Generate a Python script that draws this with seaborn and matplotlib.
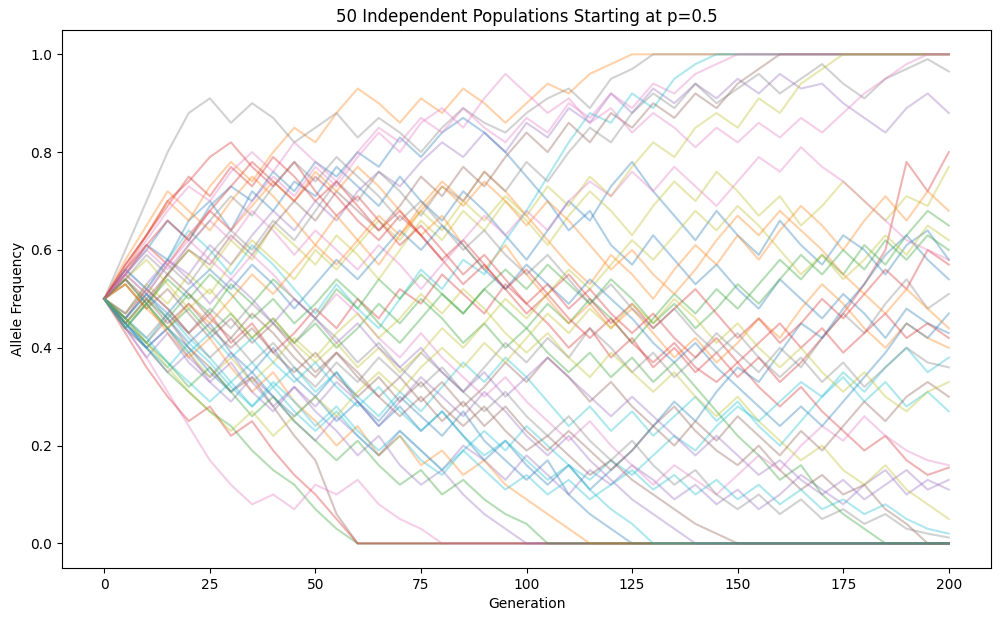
import numpy as np
import pandas as pd
import matplotlib
matplotlib.use("Agg")
import matplotlib.pyplot as plt
import seaborn as sns

generations = np.arange(0, 201, 5)

pop01 = [0.50,0.55,0.61,0.58,0.66,0.70,0.64,0.72,0.68,0.74, 0.71,0.77,0.73,0.69,0.75,0.70,0.66,0.72,0.68,0.63, 0.58,0.64,0.70,0.66,0.73,0.78,0.72,0.67,0.62,0.68, 0.63,0.59,0.66,0.61,0.57,0.63,0.60,0.55,0.61,0.64,0.58]
pop02 = [0.50,0.56,0.63,0.70,0.66,0.73,0.78,0.74,0.80,0.85, 0.82,0.88,0.93,0.90,0.86,0.91,0.88,0.93,0.90,0.86, 0.90,0.94,0.92,0.96,0.98,1.0,1.0,1.0,1.0,1.0, 1.0,1.0,1.0,1.0,1.0,1.0,1.0,1.0,1.0,1.0,1.0]
pop03 = [0.50,0.44,0.40,0.35,0.31,0.27,0.24,0.19,0.15,0.12, 0.07,0.03,0.0,0.0,0.0,0.0,0.0,0.0,0.0,0.0, 0.0,0.0,0.0,0.0,0.0,0.0,0.0,0.0,0.0,0.0, 0.0,0.0,0.0,0.0,0.0,0.0,0.0,0.0,0.0,0.0,0.0]
pop04 = [0.50,0.46,0.52,0.48,0.43,0.47,0.41,0.45,0.39,0.43, 0.48,0.44,0.50,0.46,0.52,0.49,0.55,0.51,0.47,0.53, 0.49,0.45,0.40,0.44,0.38,0.42,0.36,0.40,0.35,0.39, 0.34,0.38,0.33,0.37,0.42,0.47,0.53,0.60,0.78,0.72,0.80]
pop05 = [0.50,0.47,0.53,0.58,0.55,0.61,0.57,0.63,0.68,0.64, 0.70,0.66,0.72,0.76,0.73,0.78,0.82,0.79,0.84,0.80, 0.86,0.83,0.89,0.86,0.92,0.88,0.93,0.90,0.94,0.91, 0.95,0.92,0.96,0.93,0.94,0.90,0.87,0.84,0.89,0.92,0.88]
pop06 = [0.50,0.45,0.41,0.46,0.40,0.36,0.31,0.34,0.28,0.22, 0.17,0.06,0.0,0.0,0.0,0.0,0.0,0.0,0.0,0.0, 0.0,0.0,0.0,0.0,0.0,0.0,0.0,0.0,0.0,0.0, 0.0,0.0,0.0,0.0,0.0,0.0,0.0,0.0,0.0,0.0,0.0]
pop07 = [0.50,0.44,0.38,0.31,0.24,0.17,0.12,0.08,0.10,0.07, 0.12,0.10,0.13,0.08,0.05,0.03,0.0,0.0,0.0,0.0, 0.0,0.0,0.0,0.0,0.0,0.0,0.0,0.0,0.0,0.0, 0.0,0.0,0.0,0.0,0.0,0.0,0.0,0.0,0.0,0.0,0.0]
pop08 = [0.50,0.60,0.70,0.80,0.88,0.91,0.86,0.90,0.87,0.82, 0.85,0.88,0.83,0.87,0.84,0.80,0.85,0.89,0.86,0.84, 0.88,0.91,0.93,0.89,0.95,0.97,1.0,1.0,1.0,1.0, 1.0,1.0,1.0,1.0,1.0,1.0,1.0,1.0,1.0,1.0,1.0]
pop09 = [0.50,0.53,0.48,0.55,0.60,0.56,0.62,0.58,0.65,0.61, 0.57,0.63,0.59,0.54,0.60,0.66,0.62,0.68,0.64,0.70, 0.66,0.61,0.67,0.72,0.68,0.63,0.69,0.74,0.70,0.76, 0.72,0.67,0.71,0.65,0.69,0.74,0.70,0.66,0.71,0.69,0.77]
pop10 = [0.50,0.56,0.52,0.58,0.64,0.60,0.55,0.61,0.57,0.52, 0.47,0.53,0.48,0.44,0.50,0.56,0.52,0.58,0.55,0.62, 0.68,0.75,0.82,0.88,0.86,0.92,0.89,0.95,0.98,1.0, 1.0,1.0,1.0,1.0,1.0,1.0,1.0,1.0,1.0,1.0,1.0]
pop11 = [0.50,0.55,0.60,0.66,0.62,0.69,0.73,0.70,0.76,0.72, 0.78,0.75,0.80,0.77,0.83,0.79,0.84,0.87,0.84,0.80, 0.75,0.70,0.64,0.68,0.61,0.57,0.63,0.58,0.53,0.57, 0.52,0.48,0.54,0.50,0.46,0.51,0.47,0.42,0.48,0.45,0.43]
pop12 = [0.50,0.58,0.65,0.72,0.68,0.64,0.70,0.75,0.71,0.66, 0.61,0.67,0.62,0.57,0.63,0.69,0.74,0.70,0.76,0.72, 0.67,0.62,0.57,0.53,0.59,0.55,0.50,0.56,0.61,0.57, 0.63,0.58,0.64,0.69,0.65,0.60,0.66,0.71,0.66,0.72,0.68]
pop13 = [0.50,0.45,0.50,0.46,0.51,0.47,0.53,0.49,0.54,0.50, 0.46,0.52,0.48,0.54,0.50,0.55,0.51,0.47,0.52,0.48, 0.44,0.49,0.45,0.50,0.46,0.41,0.46,0.51,0.47,0.52, 0.48,0.53,0.58,0.54,0.59,0.55,0.61,0.57,0.63,0.68,0.65]
pop14 = [0.50,0.43,0.36,0.30,0.25,0.28,0.22,0.25,0.19,0.14, 0.10,0.05,0.0,0.0,0.0,0.0,0.0,0.0,0.0,0.0, 0.0,0.0,0.0,0.0,0.0,0.0,0.0,0.0,0.0,0.0, 0.0,0.0,0.0,0.0,0.0,0.0,0.0,0.0,0.0,0.0,0.0]
pop15 = [0.50,0.44,0.40,0.35,0.39,0.33,0.29,0.34,0.30,0.25, 0.21,0.26,0.22,0.18,0.23,0.19,0.15,0.20,0.17,0.13, 0.18,0.14,0.10,0.15,0.12,0.16,0.13,0.09,0.12,0.08, 0.11,0.07,0.10,0.14,0.11,0.08,0.12,0.15,0.10,0.13,0.11]
pop16 = [0.50,0.54,0.49,0.55,0.60,0.57,0.63,0.59,0.65,0.70, 0.66,0.72,0.68,0.64,0.69,0.75,0.71,0.77,0.73,0.79, 0.84,0.80,0.86,0.82,0.88,0.85,0.90,0.87,0.92,0.89, 0.94,0.97,1.0,1.0,1.0,1.0,1.0,1.0,1.0,1.0,1.0]
pop17 = [0.50,0.56,0.62,0.68,0.73,0.70,0.76,0.80,0.76,0.82, 0.78,0.74,0.80,0.85,0.82,0.87,0.84,0.89,0.85,0.82, 0.87,0.84,0.90,0.87,0.92,0.89,0.94,0.92,0.96,0.98, 1.0,1.0,1.0,1.0,1.0,1.0,1.0,1.0,1.0,1.0,1.0]
pop18 = [0.50,0.55,0.51,0.57,0.53,0.59,0.64,0.60,0.66,0.62, 0.68,0.74,0.70,0.76,0.72,0.67,0.73,0.70,0.76,0.72, 0.78,0.74,0.80,0.85,0.82,0.88,0.92,0.89,0.94,0.90, 0.93,0.96,0.92,0.95,0.98,0.94,0.91,0.95,0.97,0.99,0.965]
pop19 = [0.50,0.47,0.53,0.49,0.55,0.51,0.57,0.62,0.58,0.54, 0.60,0.56,0.61,0.66,0.62,0.68,0.64,0.70,0.66,0.71, 0.67,0.73,0.69,0.75,0.71,0.77,0.82,0.79,0.85,0.88, 0.85,0.91,0.88,0.94,0.97,1.0,1.0,1.0,1.0,1.0,1.0]
pop20 = [0.50,0.45,0.41,0.47,0.42,0.38,0.33,0.37,0.32,0.36, 0.31,0.35,0.30,0.26,0.31,0.27,0.32,0.37,0.33,0.38, 0.34,0.29,0.24,0.28,0.23,0.27,0.22,0.26,0.30,0.25, 0.29,0.24,0.20,0.25,0.30,0.34,0.29,0.33,0.28,0.31,0.27]
pop21 = [0.50,0.46,0.51,0.46,0.41,0.45,0.39,0.35,0.40,0.34, 0.30,0.35,0.29,0.25,0.30,0.26,0.22,0.27,0.21,0.17, 0.13,0.17,0.10,0.06,0.03,0.0,0.0,0.0,0.0,0.0, 0.0,0.0,0.0,0.0,0.0,0.0,0.0,0.0,0.0,0.0,0.0]
pop22 = [0.50,0.55,0.61,0.57,0.63,0.68,0.64,0.69,0.74,0.70, 0.76,0.72,0.77,0.73,0.68,0.63,0.67,0.61,0.56,0.61, 0.55,0.50,0.45,0.49,0.44,0.48,0.43,0.38,0.42,0.37, 0.41,0.46,0.42,0.48,0.53,0.49,0.44,0.40,0.45,0.42,0.40]
pop23 = [0.50,0.54,0.49,0.44,0.48,0.43,0.47,0.42,0.46,0.41, 0.45,0.40,0.44,0.49,0.45,0.50,0.46,0.41,0.45,0.40, 0.44,0.39,0.35,0.39,0.34,0.38,0.33,0.37,0.32,0.27, 0.22,0.18,0.13,0.16,0.10,0.06,0.03,0.0,0.0,0.0,0.0]
pop24 = [0.50,0.56,0.61,0.66,0.62,0.68,0.73,0.78,0.74,0.70, 0.75,0.71,0.66,0.62,0.67,0.63,0.58,0.53,0.57,0.52, 0.47,0.51,0.46,0.42,0.46,0.41,0.37,0.41,0.36,0.33, 0.37,0.32,0.28,0.32,0.27,0.23,0.19,0.22,0.17,0.14,0.155]
pop25 = [0.50,0.45,0.40,0.44,0.38,0.34,0.39,0.33,0.28,0.32, 0.27,0.23,0.18,0.22,0.16,0.12,0.15,0.10,0.06,0.03, 0.0,0.0,0.0,0.0,0.0,0.0,0.0,0.0,0.0,0.0, 0.0,0.0,0.0,0.0,0.0,0.0,0.0,0.0,0.0,0.0,0.0]
pop26 = [0.50,0.53,0.48,0.52,0.47,0.42,0.46,0.41,0.45,0.40, 0.35,0.39,0.34,0.30,0.34,0.29,0.33,0.28,0.32,0.37, 0.33,0.38,0.34,0.29,0.33,0.28,0.24,0.28,0.23,0.19, 0.16,0.20,0.15,0.11,0.14,0.10,0.12,0.07,0.04,0.0,0.0]
pop27 = [0.50,0.55,0.51,0.57,0.62,0.58,0.54,0.59,0.55,0.50, 0.46,0.51,0.47,0.42,0.38,0.43,0.38,0.34,0.30,0.34, 0.29,0.25,0.21,0.25,0.20,0.16,0.12,0.16,0.13,0.10, 0.14,0.18,0.15,0.20,0.24,0.21,0.26,0.22,0.19,0.17,0.16]
pop28 = [0.50,0.46,0.42,0.47,0.43,0.38,0.42,0.37,0.41,0.36, 0.32,0.37,0.33,0.38,0.34,0.39,0.35,0.31,0.36,0.41, 0.37,0.42,0.38,0.44,0.40,0.35,0.39,0.34,0.38,0.43, 0.39,0.35,0.40,0.36,0.42,0.47,0.43,0.49,0.54,0.48,0.51]
pop29 = [0.50,0.45,0.49,0.44,0.39,0.34,0.38,0.33,0.37,0.42, 0.38,0.43,0.47,0.42,0.46,0.51,0.47,0.52,0.48,0.43, 0.39,0.43,0.38,0.34,0.39,0.35,0.31,0.35,0.30,0.26, 0.30,0.25,0.21,0.17,0.20,0.15,0.12,0.16,0.11,0.08,0.05]
pop30 = [0.50,0.46,0.42,0.37,0.33,0.29,0.33,0.28,0.32,0.27, 0.23,0.27,0.22,0.18,0.22,0.17,0.14,0.19,0.23,0.19, 0.24,0.20,0.16,0.13,0.17,0.14,0.18,0.22,0.19,0.24, 0.28,0.25,0.29,0.33,0.30,0.35,0.31,0.36,0.40,0.35,0.38]
pop31 = [0.50,0.45,0.40,0.44,0.40,0.35,0.31,0.35,0.30,0.26, 0.30,0.25,0.29,0.24,0.28,0.23,0.27,0.22,0.17,0.21, 0.16,0.12,0.16,0.11,0.15,0.19,0.24,0.29,0.25,0.31, 0.36,0.33,0.39,0.45,0.42,0.48,0.53,0.59,0.63,0.58,0.54]
pop32 = [0.50,0.44,0.49,0.43,0.38,0.42,0.36,0.31,0.35,0.29, 0.25,0.20,0.24,0.18,0.22,0.16,0.19,0.14,0.17,0.12, 0.09,0.06,0.03,0.0,0.0,0.0,0.0,0.0,0.0,0.0, 0.0,0.0,0.0,0.0,0.0,0.0,0.0,0.0,0.0,0.0,0.0]
pop33 = [0.50,0.44,0.49,0.54,0.50,0.55,0.51,0.46,0.50,0.45, 0.49,0.54,0.50,0.45,0.41,0.46,0.51,0.47,0.52,0.56, 0.52,0.57,0.53,0.49,0.54,0.50,0.45,0.49,0.44,0.48, 0.53,0.49,0.54,0.59,0.55,0.60,0.56,0.62,0.58,0.63,0.60]
pop34 = [0.50,0.57,0.63,0.69,0.75,0.71,0.77,0.73,0.79,0.75, 0.70,0.74,0.69,0.64,0.68,0.63,0.58,0.62,0.57,0.52, 0.56,0.51,0.55,0.50,0.45,0.49,0.44,0.48,0.52,0.47, 0.42,0.46,0.41,0.45,0.50,0.46,0.51,0.56,0.52,0.60,0.57]
pop35 = [0.50,0.44,0.38,0.43,0.37,0.33,0.37,0.31,0.27,0.32, 0.28,0.33,0.29,0.24,0.29,0.34,0.30,0.26,0.31,0.27, 0.22,0.18,0.22,0.17,0.13,0.09,0.06,0.03,0.0,0.0, 0.0,0.0,0.0,0.0,0.0,0.0,0.0,0.0,0.0,0.0,0.0]
pop36 = [0.50,0.45,0.50,0.55,0.51,0.46,0.42,0.47,0.43,0.38, 0.34,0.39,0.35,0.30,0.26,0.30,0.25,0.29,0.24,0.28, 0.23,0.19,0.23,0.19,0.15,0.19,0.24,0.20,0.25,0.21, 0.26,0.22,0.18,0.23,0.19,0.24,0.29,0.25,0.30,0.33,0.30]
pop37 = [0.50,0.55,0.60,0.56,0.61,0.66,0.62,0.68,0.64,0.59, 0.64,0.60,0.56,0.61,0.57,0.52,0.57,0.62,0.67,0.63, 0.68,0.64,0.70,0.74,0.71,0.76,0.72,0.77,0.73,0.69, 0.74,0.79,0.76,0.81,0.77,0.74,0.70,0.66,0.62,0.60,0.58]
pop38 = [0.50,0.47,0.52,0.48,0.43,0.48,0.44,0.49,0.45,0.41, 0.46,0.42,0.37,0.41,0.36,0.32,0.36,0.31,0.27,0.31, 0.26,0.22,0.26,0.21,0.17,0.21,0.16,0.12,0.15,0.10, 0.07,0.10,0.06,0.09,0.05,0.07,0.04,0.06,0.03,0.02,0.012]
pop39 = [0.50,0.54,0.58,0.53,0.48,0.52,0.47,0.42,0.46,0.41, 0.37,0.41,0.36,0.40,0.35,0.39,0.44,0.40,0.45,0.50, 0.46,0.51,0.56,0.52,0.57,0.62,0.58,0.63,0.68,0.64, 0.69,0.65,0.60,0.55,0.59,0.54,0.58,0.63,0.59,0.65,0.62]
pop40 = [0.50,0.45,0.40,0.36,0.41,0.37,0.32,0.28,0.33,0.29, 0.24,0.28,0.23,0.19,0.23,0.19,0.15,0.19,0.15,0.11, 0.14,0.10,0.13,0.09,0.12,0.15,0.11,0.14,0.10,0.13, 0.09,0.12,0.08,0.11,0.07,0.09,0.06,0.08,0.05,0.03,0.02]
pop41 = [0.50,0.46,0.51,0.47,0.52,0.56,0.52,0.57,0.53,0.48, 0.53,0.58,0.54,0.59,0.64,0.60,0.65,0.61,0.56,0.52, 0.57,0.53,0.49,0.54,0.50,0.46,0.41,0.37,0.41,0.36, 0.32,0.28,0.24,0.28,0.24,0.29,0.34,0.39,0.45,0.42,0.47]
pop42 = [0.50,0.53,0.48,0.44,0.49,0.45,0.50,0.55,0.51,0.56, 0.61,0.57,0.62,0.67,0.63,0.68,0.73,0.69,0.74,0.70, 0.65,0.70,0.66,0.61,0.56,0.60,0.55,0.51,0.56,0.62, 0.67,0.63,0.68,0.64,0.60,0.55,0.51,0.47,0.52,0.48,0.44]
pop43 = [0.50,0.46,0.41,0.37,0.32,0.36,0.31,0.26,0.30,0.25, 0.21,0.17,0.21,0.16,0.12,0.15,0.10,0.13,0.09,0.06, 0.04,0.0,0.0,0.0,0.0,0.0,0.0,0.0,0.0,0.0, 0.0,0.0,0.0,0.0,0.0,0.0,0.0,0.0,0.0,0.0,0.0]
pop44 = [0.50,0.57,0.63,0.70,0.74,0.79,0.82,0.77,0.73,0.78, 0.72,0.67,0.71,0.66,0.61,0.65,0.60,0.55,0.59,0.54, 0.49,0.53,0.48,0.52,0.47,0.43,0.47,0.42,0.38,0.42, 0.37,0.41,0.45,0.40,0.44,0.39,0.43,0.47,0.42,0.45,0.42]
pop45 = [0.50,0.56,0.52,0.58,0.54,0.49,0.54,0.50,0.45,0.50, 0.46,0.41,0.45,0.40,0.36,0.40,0.35,0.31,0.35,0.30, 0.34,0.38,0.34,0.30,0.26,0.30,0.26,0.22,0.18,0.22, 0.18,0.14,0.17,0.13,0.10,0.13,0.09,0.12,0.15,0.11,0.13]
pop46 = [0.50,0.54,0.50,0.45,0.49,0.44,0.40,0.44,0.39,0.35, 0.39,0.34,0.30,0.34,0.29,0.33,0.28,0.24,0.28,0.23, 0.19,0.22,0.18,0.14,0.17,0.13,0.10,0.07,0.04,0.02, 0.0,0.0,0.0,0.0,0.0,0.0,0.0,0.0,0.0,0.0,0.0]
pop47 = [0.50,0.55,0.61,0.57,0.63,0.68,0.64,0.70,0.75,0.71, 0.77,0.73,0.79,0.84,0.80,0.86,0.89,0.85,0.91,0.96, 0.92,0.88,0.91,0.86,0.89,0.84,0.88,0.85,0.81,0.85, 0.82,0.86,0.83,0.87,0.84,0.88,0.92,0.95,0.98,1.0,1.0]
pop48 = [0.50,0.54,0.59,0.55,0.61,0.66,0.71,0.67,0.73,0.78, 0.74,0.79,0.75,0.71,0.66,0.70,0.65,0.60,0.64,0.59, 0.55,0.59,0.54,0.49,0.53,0.48,0.44,0.48,0.43,0.39, 0.43,0.38,0.34,0.38,0.33,0.37,0.32,0.36,0.40,0.37,0.36]
pop49 = [0.50,0.46,0.41,0.36,0.31,0.27,0.23,0.27,0.22,0.26, 0.30,0.26,0.31,0.35,0.31,0.36,0.40,0.36,0.41,0.37, 0.42,0.47,0.43,0.48,0.44,0.49,0.45,0.50,0.46,0.41, 0.45,0.40,0.36,0.40,0.35,0.31,0.35,0.30,0.27,0.31,0.33]
pop50 = [0.50,0.44,0.49,0.44,0.39,0.43,0.38,0.42,0.37,0.33, 0.37,0.32,0.28,0.32,0.27,0.23,0.27,0.22,0.18,0.21, 0.17,0.13,0.16,0.11,0.07,0.04,0.0,0.0,0.0,0.0, 0.0,0.0,0.0,0.0,0.0,0.0,0.0,0.0,0.0,0.0,0.0]

populations = [pop01, pop02, pop03, pop04, pop05, pop06, pop07, pop08, pop09, pop10,
               pop11, pop12, pop13, pop14, pop15, pop16, pop17, pop18, pop19, pop20,
               pop21, pop22, pop23, pop24, pop25, pop26, pop27, pop28, pop29, pop30,
               pop31, pop32, pop33, pop34, pop35, pop36, pop37, pop38, pop39, pop40,
               pop41, pop42, pop43, pop44, pop45, pop46, pop47, pop48, pop49, pop50]

# long-form table for seaborn
rows = []
for i, freqs in enumerate(populations):
    for g, p in zip(generations, freqs):
        rows.append({"Generation": g, "Allele Frequency": p, "pop": i})
df = pd.DataFrame(rows)

fig, ax = plt.subplots(figsize=(10.01, 6.22), dpi=100)
sns.lineplot(data=df, x="Generation", y="Allele Frequency", hue="pop",
             palette=sns.color_palette("tab10", len(populations)),
             alpha=0.35, linewidth=1.5, legend=False, ax=ax, estimator=None)

ax.set_title("50 Independent Populations Starting at p=0.5")
ax.set_xlabel("Generation")
ax.set_ylabel("Allele Frequency")

plt.subplots_adjust(left=0.062, right=0.99, top=0.952, bottom=0.087)
plt.savefig("out.png", dpi=100)
